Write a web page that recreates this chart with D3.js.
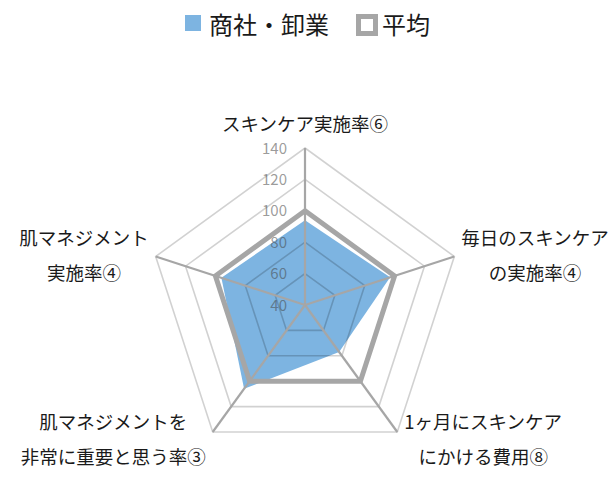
<!DOCTYPE html>
<html>
<head>
<meta charset="utf-8">
<script src="https://cdnjs.cloudflare.com/ajax/libs/d3/7.8.5/d3.min.js"></script>
<style>
  body { margin: 0; background: #fff; }
  text { font-family: "Noto Sans CJK JP", "Noto Sans", sans-serif; }
</style>
</head>
<body>
<div id="chart"></div>
<script>
// axes, clockwise from the top; each label is split into its two display lines
const categories = [
  ['スキンケア実施率⑥'],
  ['毎日のスキンケア', 'の実施率④'],
  ['1ヶ月にスキンケア', 'にかける費用⑧'],
  ['肌マネジメントを', '非常に重要と思う率③'],
  ['肌マネジメント', '実施率④']
];
const shoshaValues = [94, 97, 77, 106, 96];
const averageValues = [100, 100, 100, 100, 100];
const ticks = [40, 60, 80, 100, 120, 140];
const seriesNames = ['商社・卸業', '平均'];

const width = 615;
const height = 482;
const cx = 305, cy = 305, radius = 157;

const svg = d3.select('#chart')
  .append('svg')
  .attr('width', width)
  .attr('height', height);

const r = d3.scaleLinear()
  .domain([d3.min(ticks), d3.max(ticks)])
  .range([0, radius]);

const angle = i => (i / categories.length) * 2 * Math.PI;
const pt = (i, v) => [cx + r(v) * Math.sin(angle(i)), cy - r(v) * Math.cos(angle(i))];
const ring = (vals) => vals.map((v, i) => pt(i, v));
const closed = d3.line().curve(d3.curveLinearClosed);

// blue area first, grid drawn over it semi-transparent so it shows through
svg.append('path')
  .attr('d', closed(ring(shoshaValues)))
  .attr('fill', '#7db4e1');

svg.append('g')
  .selectAll('path')
  .data(ticks.slice(1))
  .join('path')
  .attr('d', t => closed(categories.map((c, i) => pt(i, t))))
  .attr('fill', 'none')
  .attr('stroke', 'rgba(0,0,0,0.18)')
  .attr('stroke-width', 1.6);

svg.append('g')
  .selectAll('line')
  .data(categories)
  .join('line')
  .attr('x1', cx)
  .attr('y1', cy)
  .attr('x2', (c, i) => pt(i, d3.max(ticks))[0])
  .attr('y2', (c, i) => pt(i, d3.max(ticks))[1])
  .attr('stroke', '#a6a6a6')
  .attr('stroke-width', 2.2);

svg.append('g')
  .selectAll('text')
  .data(ticks)
  .join('text')
  .attr('x', cx - 18)
  .attr('y', t => cy - r(t) + 5.5)
  .attr('text-anchor', 'end')
  .attr('fill', 'rgba(70,70,70,0.55)')
  .style('font-size', '15px')
  .text(t => t);

// average line on top
svg.append('path')
  .attr('d', closed(ring(averageValues)))
  .attr('fill', 'none')
  .attr('stroke', '#a6a6a6')
  .attr('stroke-width', 5)
  .attr('stroke-linejoin', 'miter');

// category labels
const labelG = svg.append('g');
categories.forEach((lines, i) => {
  const [vx, vy] = pt(i, d3.max(ticks));
  const sx = Math.sin(angle(i));
  const cyDir = -Math.cos(angle(i));
  const g = labelG.append('g');
  const texts = g.selectAll('text')
    .data(lines)
    .join('text')
    .attr('text-anchor', 'middle')
    .attr('fill', '#1a1a1a')
    .style('font-size', '18.5px')
    .text(d => d);
  const w = d3.max(texts.nodes(), n => n.getComputedTextLength());
  let x, y0;
  if (Math.abs(sx) < 0.01) {
    x = vx;
    y0 = vy - 17;
  } else {
    x = sx > 0 ? vx + 7 + w / 2 : vx - 7 - w / 2;
    y0 = vy - 11 + 10 * Math.max(0, cyDir);
  }
  texts.attr('x', x).attr('y', (d, k) => y0 + k * 35);
});

// legend
const legend = svg.append('g');
legend.append('rect')
  .attr('x', 185).attr('y', 15)
  .attr('width', 16).attr('height', 16)
  .attr('fill', '#7db4e1');
legend.append('text')
  .attr('x', 209).attr('y', 34)
  .style('font-size', '24px')
  .attr('fill', '#1a1a1a')
  .text(seriesNames[0]);
legend.append('rect')
  .attr('x', 358.5).attr('y', 16.5)
  .attr('width', 17).attr('height', 17)
  .attr('fill', '#fff')
  .attr('stroke', '#a6a6a6')
  .attr('stroke-width', 5);
legend.append('text')
  .attr('x', 382).attr('y', 34)
  .style('font-size', '24px')
  .attr('fill', '#1a1a1a')
  .text(seriesNames[1]);
</script>
</body>
</html>
